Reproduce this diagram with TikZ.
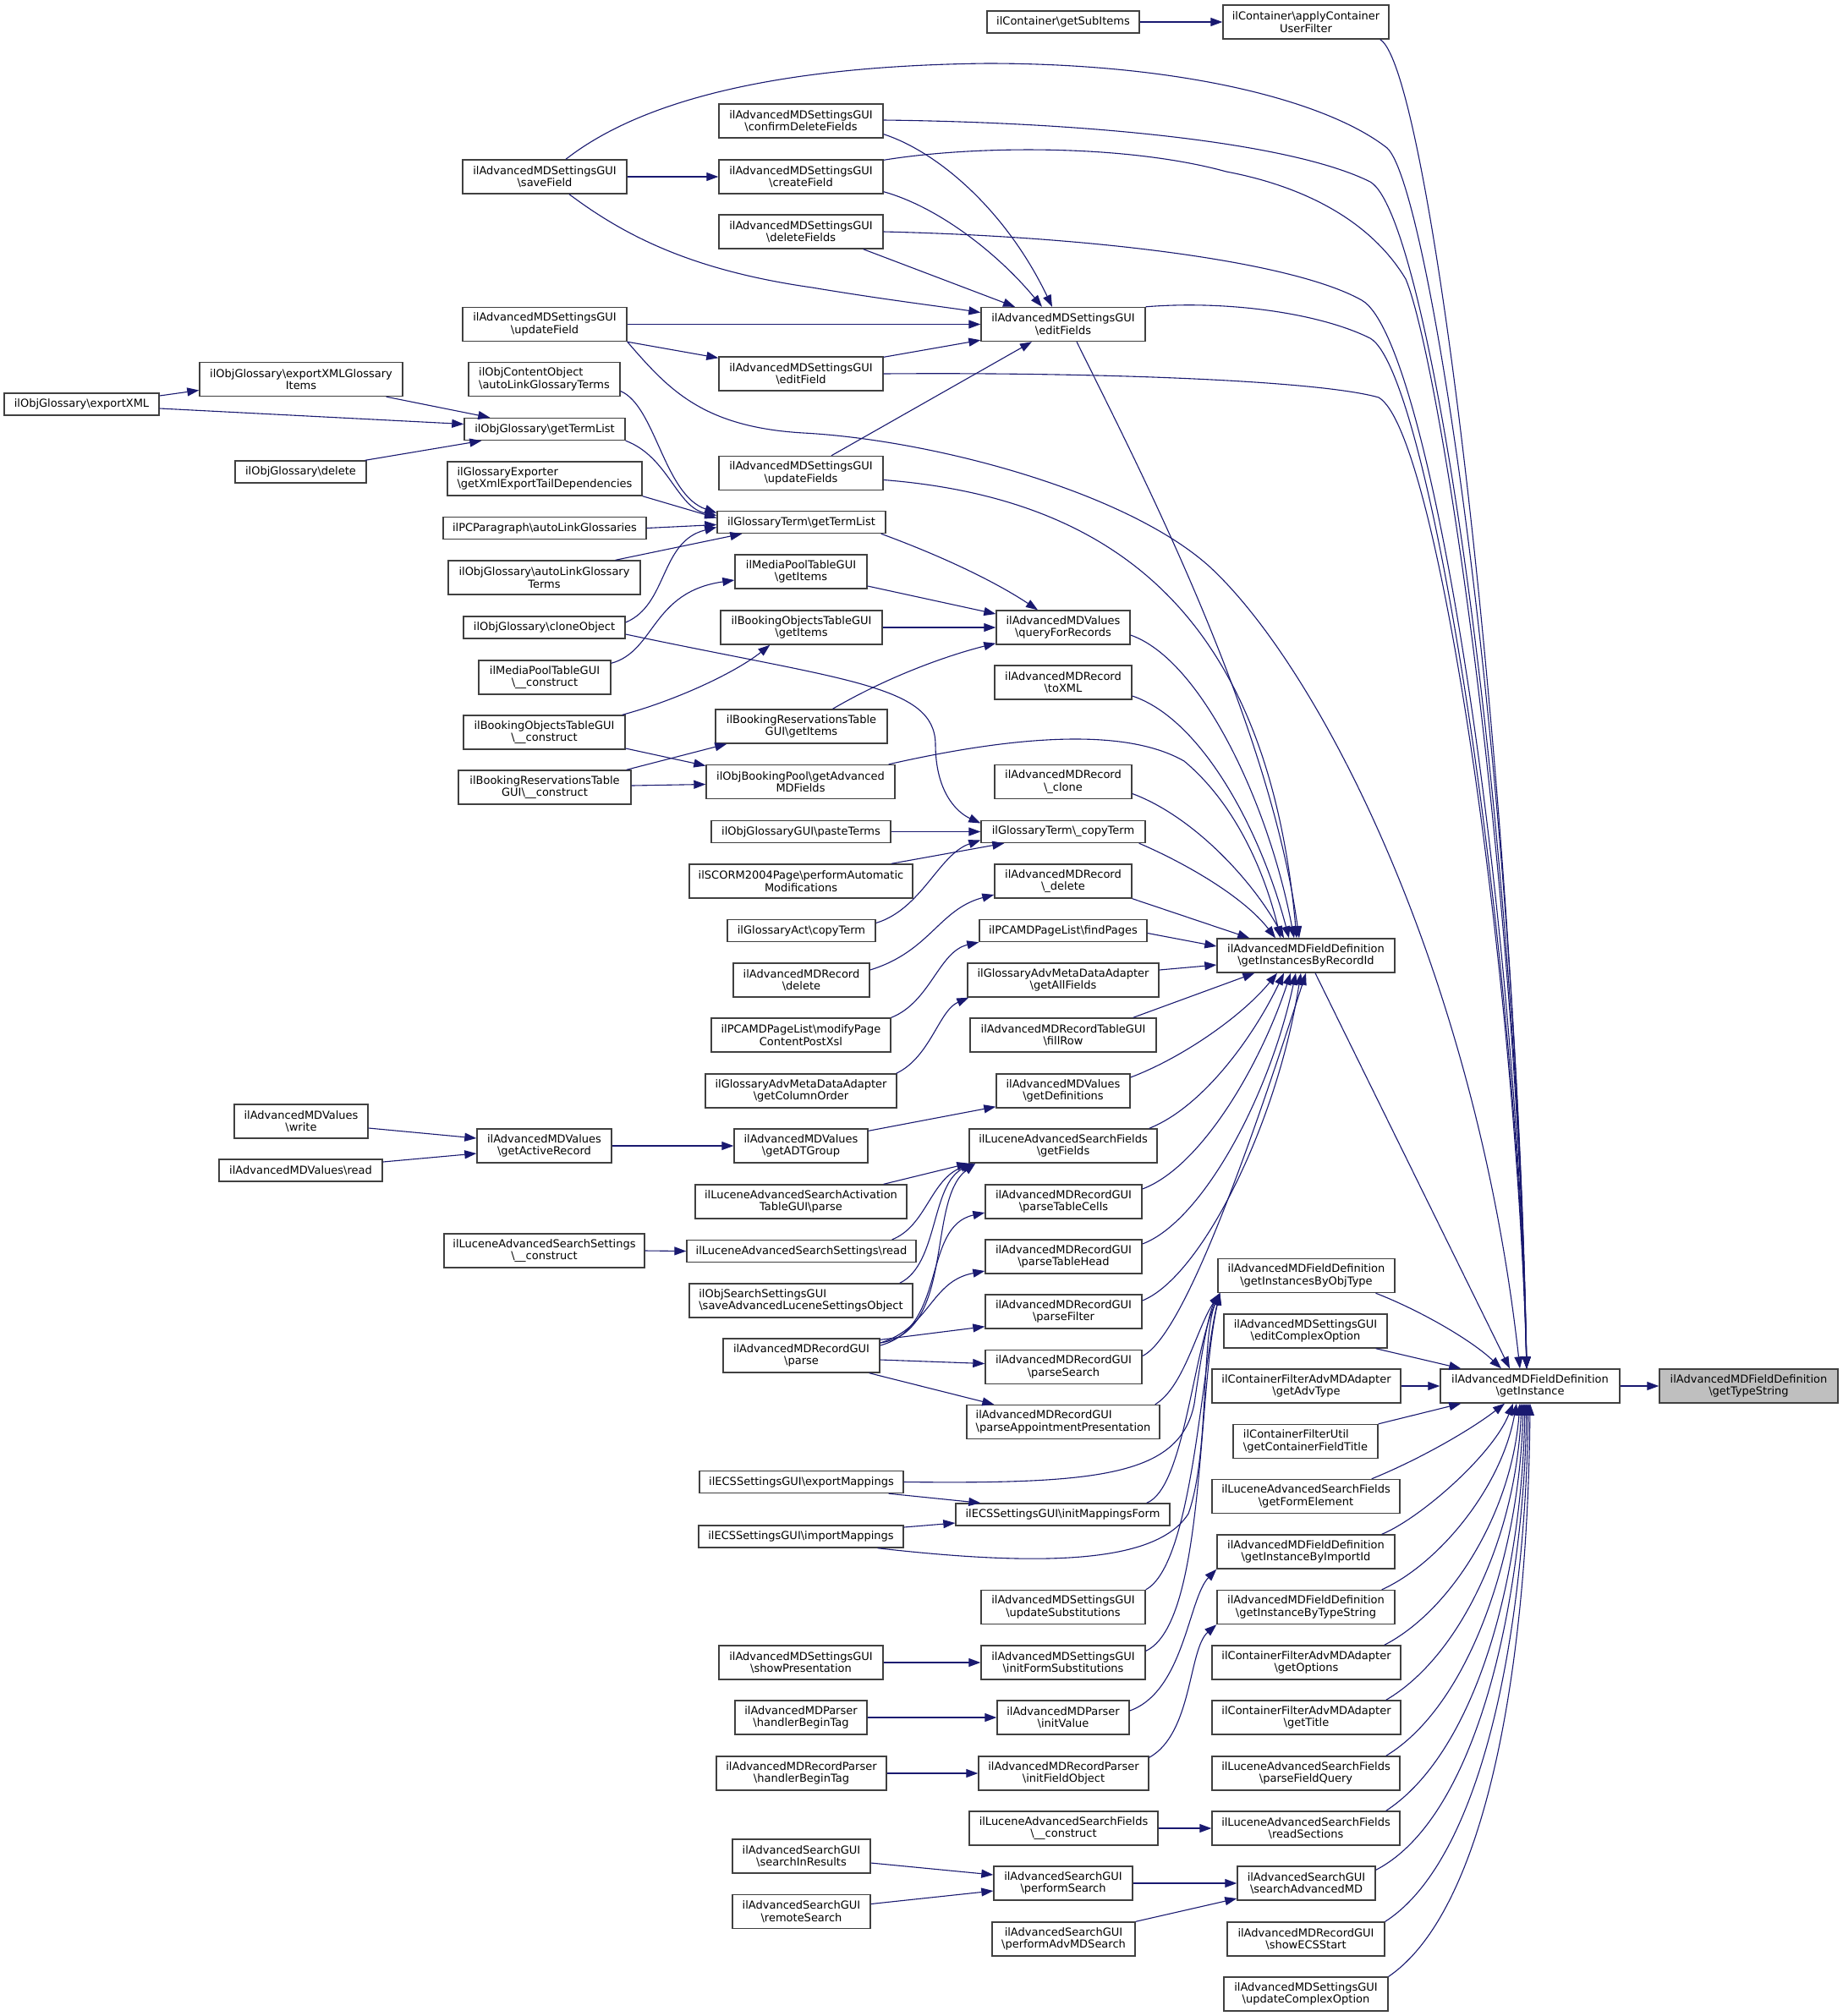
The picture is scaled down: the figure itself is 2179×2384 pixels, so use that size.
\documentclass[tikz,border=0pt]{standalone}
\usepackage{fontspec}
\setmainfont{DejaVu Sans}
\usetikzlibrary{arrows.meta,calc}
\definecolor{callblue}{RGB}{25,25,112}
\definecolor{boxgray}{RGB}{64,64,64}
\def\bs{\textbackslash}
\def\fnfont{\fontsize{6.5pt}{7.3pt}\selectfont}
\tikzset{
	fn/.style={draw=boxgray, line width=0.7pt, fill=white, inner sep=0pt, align=center, font=\fnfont},
	sz/.style 2 args={minimum width=#1*0.5pt, minimum height=#2*0.5pt},
	call/.style={draw=callblue, line width=0.55pt, -{Triangle[length=7pt,width=5pt]}},
}

\begin{document}
\begin{tikzpicture}[x=0.5pt,y=-0.5pt]
		%%%%% START %%%%%
		\fill[white] (0,0) rectangle (2179,2384);
		\useasboundingbox (0,0) rectangle (2179,2384);
		
		% right part
		\node[fn,sz={211}{40},fill=black!25] (typestr) at (2067.5,1639) {ilAdvancedMDFieldDefinition\\\bs getTypeString};
		\node[fn,sz={212}{40}] (getinst) at (1809,1639) {ilAdvancedMDFieldDefinition\\\bs getInstance};
		\node[fn,sz={196}{40}] (applyfilter) at (1544,26) {ilContainer\bs applyContainer\\UserFilter};
		\node[fn,sz={180}{26}] (subitems) at (1257,26) {ilContainer\bs getSubItems};
		
		% settings gui
		\node[fn,sz={194}{40}] (savefield) at (644,209) {ilAdvancedMDSettingsGUI\\\bs saveField};
		\node[fn,sz={194}{40}] (confirmdel) at (947,143) {ilAdvancedMDSettingsGUI\\\bs confirmDeleteFields};
		\node[fn,sz={194}{40}] (createfield) at (947,209) {ilAdvancedMDSettingsGUI\\\bs createField};
		\node[fn,sz={194}{40}] (deletefields) at (947,274) {ilAdvancedMDSettingsGUI\\\bs deleteFields};
		\node[fn,sz={194}{40}] (editfields) at (1257,383.5) {ilAdvancedMDSettingsGUI\\\bs editFields};
		\node[fn,sz={194}{40}] (updatefield) at (644,383.5) {ilAdvancedMDSettingsGUI\\\bs updateField};
		\node[fn,sz={194}{40}] (editfield) at (947,442) {ilAdvancedMDSettingsGUI\\\bs editField};
		\node[fn,sz={194}{40}] (updatefields) at (947,559.5) {ilAdvancedMDSettingsGUI\\\bs updateFields};
		
		% glossary
		\node[fn,sz={179}{40},align=left] (cobjautolink) at (643.5,448.5) {ilObjContentObject\\\bs autoLinkGlossaryTerms};
		\node[fn,sz={190}{26}] (glotermlist) at (644,507.5) {ilObjGlossary\bs getTermList};
		\node[fn,sz={240}{40}] (exportitems) at (356,448.5) {ilObjGlossary\bs exportXMLGlossary\\Items};
		\node[fn,sz={183}{26}] (exportxml) at (96.5,478) {ilObjGlossary\bs exportXML};
		\node[fn,sz={155}{26}] (glodelete) at (355.5,558) {ilObjGlossary\bs delete};
		\node[fn,sz={230}{40},align=left] (exporter) at (644,566) {ilGlossaryExporter\\\bs getXmlExportTailDependencies};
		\node[fn,sz={240}{26}] (pcpara) at (644,624.5) {ilPCParagraph\bs autoLinkGlossaries};
		\node[fn,sz={227}{40}] (gloautolink) at (643.5,683) {ilObjGlossary\bs autoLinkGlossary\\Terms};
		\node[fn,sz={191}{26}] (cloneobj) at (643.5,742) {ilObjGlossary\bs cloneObject};
		\node[fn,sz={156}{40}] (mpconstruct) at (644,801) {ilMediaPoolTableGUI\\\bs\_\_construct};
		\node[fn,sz={191}{40}] (boconstruct) at (643.5,866) {ilBookingObjectsTableGUI\\\bs\_\_construct};
		\node[fn,sz={204}{40}] (brconstruct) at (644,931) {ilBookingReservationsTable\\GUI\bs\_\_construct};
		\node[fn,sz={199}{26}] (termlist) at (947.5,617.5) {ilGlossaryTerm\bs getTermList};
		\node[fn,sz={156}{40}] (mpitems) at (947,676) {ilMediaPoolTableGUI\\\bs getItems};
		\node[fn,sz={191}{40}] (boitems) at (947.5,742) {ilBookingObjectsTableGUI\\\bs getItems};
		\node[fn,sz={158}{40}] (query) at (1257,742) {ilAdvancedMDValues\\\bs queryForRecords};
		\node[fn,sz={162}{40}] (toxml) at (1257,807) {ilAdvancedMDRecord\\\bs toXML};
		\node[fn,sz={203}{40}] (britems) at (947.5,859) {ilBookingReservationsTable\\GUI\bs getItems};
		\node[fn,sz={223}{40}] (bookpool) at (946.5,924.5) {ilObjBookingPool\bs getAdvanced\\MDFields};
		\node[fn,sz={162}{40}] (rclone) at (1257,924.5) {ilAdvancedMDRecord\\\bs\_clone};
		\node[fn,sz={212}{26}] (paste) at (947,983.5) {ilObjGlossaryGUI\bs pasteTerms};
		\node[fn,sz={194}{26}] (copyterm) at (1257,983.5) {ilGlossaryTerm\bs\_copyTerm};
		\node[fn,sz={264}{40}] (scorm) at (947,1042) {ilSCORM2004Page\bs performAutomatic\\Modifications};
		\node[fn,sz={162}{40}] (rdelete) at (1257,1042) {ilAdvancedMDRecord\\\bs\_delete};
		\node[fn,sz={175}{26}] (actcopy) at (947.5,1100.5) {ilGlossaryAct\bs copyTerm};
		\node[fn,sz={198}{26}] (findpages) at (1257,1100.5) {ilPCAMDPageList\bs findPages};
		\node[fn,sz={161}{40}] (recdelete) at (947.5,1159) {ilAdvancedMDRecord\\\bs delete};
		\node[fn,sz={226}{40}] (allfields) at (1257,1159) {ilGlossaryAdvMetaDataAdapter\\\bs getAllFields};
		\node[fn,sz={210}{40}] (byrecord) at (1544,1130) {ilAdvancedMDFieldDefinition\\\bs getInstancesByRecordId};
		
		% records and search
		\node[fn,sz={212}{40}] (modifypage) at (947,1224) {ilPCAMDPageList\bs modifyPage\\ContentPostXsl};
		\node[fn,sz={220}{40}] (fillrow) at (1257,1224) {ilAdvancedMDRecordTableGUI\\\bs fillRow};
		\node[fn,sz={226}{40}] (colorder) at (947,1290) {ilGlossaryAdvMetaDataAdapter\\\bs getColumnOrder};
		\node[fn,sz={158}{40}] (getdefs) at (1257,1290) {ilAdvancedMDValues\\\bs getDefinitions};
		\node[fn,sz={158}{40}] (mdwrite) at (356,1326) {ilAdvancedMDValues\\\bs write};
		\node[fn,sz={193}{26}] (mdread) at (355.5,1384) {ilAdvancedMDValues\bs read};
		\node[fn,sz={159}{40}] (activerec) at (643.5,1355) {ilAdvancedMDValues\\\bs getActiveRecord};
		\node[fn,sz={158}{40}] (adtgroup) at (947,1355) {ilAdvancedMDValues\\\bs getADTGroup};
		\node[fn,sz={222}{40}] (getfields) at (1257,1355) {ilLuceneAdvancedSearchFields\\\bs getFields};
		\node[fn,sz={250}{40}] (activparse) at (947,1421) {ilLuceneAdvancedSearchActivation\\TableGUI\bs parse};
		\node[fn,sz={185}{40}] (tablecells) at (1257.5,1421) {ilAdvancedMDRecordGUI\\\bs parseTableCells};
		\node[fn,sz={237}{40}] (lsconstruct) at (643.5,1479) {ilLuceneAdvancedSearchSettings\\\bs\_\_construct};
		\node[fn,sz={271}{26}] (lsread) at (947.5,1479.5) {ilLuceneAdvancedSearchSettings\bs read};
		\node[fn,sz={185}{40}] (tablehead) at (1257.5,1486) {ilAdvancedMDRecordGUI\\\bs parseTableHead};
		\node[fn,sz={264}{40},align=left] (savelucene) at (947,1538) {ilObjSearchSettingsGUI\\\bs saveAdvancedLuceneSettingsObject};
		\node[fn,sz={209}{40}] (byobjtype) at (1544.5,1508.5) {ilAdvancedMDFieldDefinition\\\bs getInstancesByObjType};
		\node[fn,sz={185}{40}] (parsefilter) at (1257.5,1551) {ilAdvancedMDRecordGUI\\\bs parseFilter};
		\node[fn,sz={193}{40}] (editcomplex) at (1543.5,1574) {ilAdvancedMDSettingsGUI\\\bs editComplexOption};
		\node[fn,sz={185}{40}] (rgparse) at (947.5,1603) {ilAdvancedMDRecordGUI\\\bs parse};
		\node[fn,sz={185}{40}] (parsesearch) at (1257.5,1616.5) {ilAdvancedMDRecordGUI\\\bs parseSearch};
		\node[fn,sz={223}{40}] (advtype) at (1544.5,1639) {ilContainerFilterAdvMDAdapter\\\bs getAdvType};
		\node[fn,sz={228}{40},align=left] (appointment) at (1257,1681.5) {ilAdvancedMDRecordGUI\\\bs parseAppointmentPresentation};
		\node[fn,sz={171}{40},align=left] (fieldtitle) at (1543.5,1704.5) {ilContainerFilterUtil\\\bs getContainerFieldTitle};
		\node[fn,sz={241}{26}] (exportmap) at (947.5,1752.5) {ilECSSettingsGUI\bs exportMappings};
		\node[fn,sz={222}{40}] (formelement) at (1544,1769.5) {ilLuceneAdvancedSearchFields\\\bs getFormElement};
		\node[fn,sz={253}{26}] (mappingsform) at (1256.5,1791) {ilECSSettingsGUI\bs initMappingsForm};
		\node[fn,sz={242}{26}] (importmap) at (947,1817) {ilECSSettingsGUI\bs importMappings};
		\node[fn,sz={210}{40}] (byimportid) at (1544,1835) {ilAdvancedMDFieldDefinition\\\bs getInstanceByImportId};
		\node[fn,sz={194}{40}] (updatesubst) at (1257,1900.5) {ilAdvancedMDSettingsGUI\\\bs updateSubstitutions};
		\node[fn,sz={210}{40}] (bytypestring) at (1544,1900.5) {ilAdvancedMDFieldDefinition\\\bs getInstanceByTypeString};
		\node[fn,sz={194}{40}] (showpres) at (947,1966) {ilAdvancedMDSettingsGUI\\\bs showPresentation};
		\node[fn,sz={194}{40}] (initformsubst) at (1257,1966) {ilAdvancedMDSettingsGUI\\\bs initFormSubstitutions};
		\node[fn,sz={223}{40}] (getoptions) at (1544.5,1966) {ilContainerFilterAdvMDAdapter\\\bs getOptions};
		\node[fn,sz={156}{40}] (mdphandler) at (947,2031) {ilAdvancedMDParser\\\bs handlerBeginTag};
		\node[fn,sz={156}{40}] (initvalue) at (1257,2031) {ilAdvancedMDParser\\\bs initValue};
		\node[fn,sz={223}{40}] (gettitle) at (1544.5,2031) {ilContainerFilterAdvMDAdapter\\\bs getTitle};
		\node[fn,sz={201}{40}] (rphandler) at (947.5,2097) {ilAdvancedMDRecordParser\\\bs handlerBeginTag};
		\node[fn,sz={201}{40}] (initfieldobj) at (1257.5,2097) {ilAdvancedMDRecordParser\\\bs initFieldObject};
		\node[fn,sz={222}{40}] (fieldquery) at (1544,2097) {ilLuceneAdvancedSearchFields\\\bs parseFieldQuery};
		\node[fn,sz={223}{40}] (lfconstruct) at (1257.5,2162) {ilLuceneAdvancedSearchFields\\\bs\_\_construct};
		\node[fn,sz={222}{40}] (readsections) at (1544,2162) {ilLuceneAdvancedSearchFields\\\bs readSections};
		\node[fn,sz={163}{40}] (searchinres) at (947.5,2195) {ilAdvancedSearchGUI\\\bs searchInResults};
		\node[fn,sz={164}{40}] (performsearch) at (1257,2227) {ilAdvancedSearchGUI\\\bs performSearch};
		\node[fn,sz={163}{40}] (searchadvmd) at (1544.5,2227) {ilAdvancedSearchGUI\\\bs searchAdvancedMD};
		\node[fn,sz={163}{40}] (remotesearch) at (947.5,2260.5) {ilAdvancedSearchGUI\\\bs remoteSearch};
		\node[fn,sz={169}{40}] (performadvmd) at (1257.5,2293) {ilAdvancedSearchGUI\\\bs performAdvMDSearch};
		\node[fn,sz={186}{40}] (showecs) at (1544,2293) {ilAdvancedMDRecordGUI\\\bs showECSStart};
		\node[fn,sz={194}{40}] (updatecomplex) at (1544,2358) {ilAdvancedMDSettingsGUI\\\bs updateComplexOption};
		
		% calls into getInstance
		\draw[call] (getinst.east) -- (typestr.west);
		\draw[call] (subitems.east) -- (applyfilter.west);
		\draw[call] ($(applyfilter.south east)+(-11,0)$) .. controls (1690,80) and (1790,900) .. ($(getinst.north)+(-4,0)$);
		\draw[call] ($(savefield.north)+(25,0)$) .. controls (750,125) and (900,78) .. (1167,75) .. controls (1400,75) and (1570,120) .. (1640,175) .. controls (1690,220) and (1792,900) .. ($(getinst.north)+(-4,0)$);
		\draw[call] ($(confirmdel.east)+(0,-1)$) .. controls (1300,145) and (1530,170) .. (1620,215) .. controls (1690,255) and (1792,950) .. ($(getinst.north)+(-4,0)$);
		\draw[call] ($(createfield.north east)+(0,1)$) .. controls (1150,172) and (1330,170) .. (1450,203) .. controls (1540,220) and (1620,260) .. (1662,330) .. controls (1700,420) and (1792,1000) .. ($(getinst.north)+(-4,0)$);
		\draw[call] (deletefields.east) .. controls (1300,280) and (1530,310) .. (1610,355) .. controls (1690,400) and (1792,1050) .. ($(getinst.north)+(-4,0)$);
		\draw[call] (editfields.north east) .. controls (1450,355) and (1560,370) .. (1620,400) .. controls (1690,440) and (1792,1100) .. ($(getinst.north)+(-4,0)$);
		\draw[call] (editfield.east) .. controls (1300,440) and (1560,450) .. (1630,470) .. controls (1700,510) and (1792,1150) .. ($(getinst.north)+(-4,0)$);
		\draw[call] (updatefield.south east) .. controls (790,460) and (830,505) .. (950,512) .. controls (1100,520) and (1330,580) .. (1430,670) .. controls (1560,790) and (1745,1150) .. ($(getinst.north)+(-12,0)$);
		\draw[call] ($(byrecord.south)+(11,0)$) -- ($(getinst.north)+(-24,0)$);
		\draw[call] ($(byobjtype.south)+(82,0)$) .. controls (1680,1550) and (1740,1585) .. ($(getinst.north)+(-34,0)$);
		\draw[call] ($(editcomplex.south east)+(-14,0)$) -- ($(getinst.north west)+(25,0)$);
		\draw[call] (advtype.east) -- (getinst.west);
		\draw[call] (fieldtitle.north east) -- ($(getinst.south west)+(25,0)$);
		\draw[call] ($(formelement.north east)+(-34,0)$) .. controls (1680,1725) and (1740,1690) .. ($(getinst.south)+(-30,0)$);
		\draw[call] ($(byimportid.north east)+(-16,0)$) .. controls (1680,1795) and (1765,1720) .. ($(getinst.south)+(-20,0)$);
		\draw[call] ($(bytypestring.north east)+(-16,0)$) .. controls (1700,1850) and (1775,1760) .. ($(getinst.south)+(-16,0)$);
		\draw[call] ($(getoptions.north east)+(-20,0)$) .. controls (1715,1905) and (1787,1790) .. ($(getinst.south)+(-12,0)$);
		\draw[call] ($(gettitle.north east)+(-18,0)$) .. controls (1725,1960) and (1792,1820) .. ($(getinst.south)+(-10,0)$);
		\draw[call] ($(fieldquery.north east)+(-17,0)$) .. controls (1732,2020) and (1796,1850) .. ($(getinst.south)+(-8,0)$);
		\draw[call] ($(readsections.north east)+(-17,0)$) .. controls (1740,2075) and (1799,1880) .. ($(getinst.south)+(-6,0)$);
		\draw[call] ($(searchadvmd.north east)+(0,5)$) .. controls (1745,2150) and (1801,1900) .. ($(getinst.south)+(-4,0)$);
		\draw[call] (showecs.north east) .. controls (1750,2200) and (1803,1940) .. ($(getinst.south)+(-2,0)$);
		\draw[call] (updatecomplex.north east) .. controls (1755,2260) and (1806,1980) .. (getinst.south);
		
		% settings gui calls
		\draw[call] (savefield.east) -- (createfield.west);
		\draw[call] ($(savefield.south)+(29,0)$) .. controls (740,280) and (820,320) .. (960,340) .. controls (1050,355) and (1110,362) .. ($(editfields.west)+(0,-14)$);
		\draw[call] ($(confirmdel.south east)+(0,-5)$) .. controls (1110,180) and (1190,250) .. ($(editfields.north)+(-13,0)$);
		\draw[call] ($(createfield.south east)+(0,-3)$) .. controls (1110,245) and (1180,300) .. ($(editfields.north)+(-25,0)$);
		\draw[call] ($(deletefields.south east)+(-24,0)$) -- ($(editfields.north)+(-57,0)$);
		\draw[call] (updatefield.east) -- (editfields.west);
		\draw[call] (updatefield.south east) -- ($(editfield.north west)+(0,2)$);
		\draw[call] ($(editfield.north east)+(0,1)$) -- ($(editfields.south west)+(0,-2)$);
		\draw[call] ($(updatefields.north)+(36,0)$) -- ($(editfields.south)+(-37,0)$);
		\draw[call] ($(editfields.south)+(16,0)$) .. controls (1350,560) and (1500,850) .. ($(byrecord.north)+(-8,0)$);
		\draw[call] ($(updatefields.east)+(0,8)$) .. controls (1330,590) and (1500,740) .. ($(byrecord.north)+(-11,0)$);
		
		% glossary calls
		\draw[call] ($(exportxml.east)+(0,-10)$) -- ($(exportitems.west)+(0,13)$);
		\draw[call] ($(exportxml.east)+(0,5)$) -- ($(glotermlist.west)+(0,-6)$);
		\draw[call] ($(exportitems.south east)+(-20,0)$) -- ($(glotermlist.north west)+(31,0)$);
		\draw[call] ($(glodelete.north east)+(-2,0)$) -- ($(glotermlist.south west)+(21,0)$);
		\draw[call] (glotermlist.south east) .. controls (790,540) and (800,600) .. ($(termlist.west)+(0,-8)$);
		\draw[call] ($(cobjautolink.east)+(0,14)$) .. controls (775,480) and (785,585) .. ($(termlist.west)+(0,-11)$);
		\draw[call] (exporter.south east) -- ($(termlist.west)+(0,-5)$);
		\draw[call] (pcpara.east) -- ($(termlist.west)+(0,3)$);
		\draw[call] ($(gloautolink.north east)+(-30,0)$) -- ($(termlist.south west)+(30,0)$);
		\draw[call] ($(cloneobj.east)+(0,-6)$) .. controls (790,715) and (780,640) .. ($(termlist.west)+(0,6)$);
		\draw[call] ($(cloneobj.east)+(0,8)$) .. controls (1000,805) and (1105,810) .. (1106,880) .. controls (1106,935) and (1130,960) .. ($(copyterm.west)+(0,-10)$);
		\draw[call] ($(mpconstruct.north east)+(0,4)$) .. controls (775,770) and (770,700) .. ($(mpitems.west)+(0,10)$);
		\draw[call] ($(termlist.south east)+(-6,0)$) .. controls (1120,660) and (1180,690) .. ($(query.north)+(-30,0)$);
		\draw[call] ($(mpitems.east)+(0,17)$) -- ($(query.west)+(0,-16)$);
		\draw[call] (boitems.east) -- (query.west);
		\draw[call] ($(britems.north)+(37,0)$) .. controls (1050,800) and (1120,775) .. ($(query.south west)+(0,-2)$);
		\draw[call] ($(boconstruct.north east)+(-4,0)$) .. controls (800,828) and (870,795) .. ($(boitems.south west)+(59,0)$);
		\draw[call] ($(boconstruct.east)+(0,19)$) -- ($(bookpool.west)+(0,-19)$);
		\draw[call] ($(brconstruct.north east)+(-6,0)$) -- ($(britems.south west)+(14,0)$);
		\draw[call] ($(brconstruct.east)+(0,-2)$) -- ($(bookpool.west)+(0,3)$);
		\draw[call] ($(bookpool.north east)+(-8,0)$) .. controls (1200,870) and (1330,860) .. (1400,900) .. controls (1460,950) and (1495,1030) .. ($(byrecord.north)+(-30,0)$);
		\draw[call] (paste.east) -- (copyterm.west);
		\draw[call] ($(scorm.north east)+(-26,0)$) -- ($(copyterm.south west)+(28,0)$);
		\draw[call] ($(actcopy.east)+(0,-9)$) .. controls (1090,1075) and (1110,1010) .. ($(copyterm.west)+(0,10)$);
		\draw[call] ($(recdelete.east)+(0,-12)$) .. controls (1100,1125) and (1110,1075) .. ($(rdelete.west)+(0,16)$);
		\draw[call] (modifypage.north east) .. controls (1100,1185) and (1110,1125) .. (findpages.south west);
		\draw[call] ($(colorder.north east)+(-1,0)$) .. controls (1100,1250) and (1110,1195) .. ($(allfields.south west)+(2,0)$);
		
		% calls into getInstancesByRecordId
		\draw[call] ($(copyterm.south east)+(-8,0)$) .. controls (1400,1020) and (1470,1060) .. ($(byrecord.north)+(-36,0)$);
		\draw[call] ($(query.east)+(0,9)$) .. controls (1420,780) and (1500,950) .. ($(byrecord.north)+(-14,0)$);
		\draw[call] ($(toxml.east)+(0,16)$) .. controls (1420,850) and (1490,980) .. ($(byrecord.north)+(-20,0)$);
		\draw[call] ($(rclone.east)+(0,14)$) .. controls (1410,965) and (1480,1040) .. ($(byrecord.north)+(-26,0)$);
		\draw[call] (rdelete.south east) -- ($(byrecord.north west)+(39,0)$);
		\draw[call] ($(findpages.east)+(0,3)$) -- ($(byrecord.west)+(0,-11)$);
		\draw[call] ($(allfields.east)+(0,-12)$) -- ($(byrecord.west)+(0,11)$);
		\draw[call] ($(fillrow.north east)+(-28,0)$) -- ($(byrecord.south west)+(45,0)$);
		\draw[call] ($(getdefs.east)+(0,-16)$) .. controls (1400,1250) and (1470,1200) .. ($(byrecord.south)+(-34,0)$);
		\draw[call] ($(getfields.north east)+(-10,0)$) .. controls (1420,1310) and (1480,1230) .. ($(byrecord.south)+(-26,0)$);
		\draw[call] ($(tablecells.east)+(0,-15)$) .. controls (1420,1380) and (1490,1260) .. ($(byrecord.south)+(-18,0)$);
		\draw[call] ($(tablehead.east)+(0,-15)$) .. controls (1420,1445) and (1500,1300) .. ($(byrecord.south)+(-12,0)$);
		\draw[call] ($(parsefilter.east)+(0,-13)$) .. controls (1420,1510) and (1510,1330) .. ($(byrecord.south)+(-6,0)$);
		\draw[call] ($(parsesearch.east)+(0,-13)$) .. controls (1400,1580) and (1480,1350) .. (byrecord.south);
		
		% values and lucene
		\draw[call] ($(mdwrite.east)+(0,8)$) -- ($(activerec.west)+(0,-9)$);
		\draw[call] ($(mdread.east)+(0,-10)$) -- ($(activerec.west)+(0,9)$);
		\draw[call] (activerec.east) -- (adtgroup.west);
		\draw[call] ($(adtgroup.north east)+(0,3)$) -- ($(getdefs.south west)+(0,-2)$);
		\draw[call] ($(activparse.north east)+(-28,0)$) -- (getfields.south west);
		\draw[call] ($(lsread.north east)+(-29,0)$) .. controls (1095,1450) and (1100,1395) .. ($(getfields.south west)+(4,0)$);
		\draw[call] ($(savelucene.north east)+(-16,0)$) .. controls (1110,1495) and (1100,1400) .. ($(getfields.south west)+(6,0)$);
		\draw[call] ($(rgparse.east)+(0,-15)$) .. controls (1130,1575) and (1095,1420) .. ($(getfields.south west)+(8,0)$);
		\draw[call] ($(rgparse.east)+(0,-12)$) .. controls (1120,1570) and (1090,1450) .. ($(tablecells.west)+(0,13)$);
		\draw[call] ($(rgparse.east)+(0,-15)$) .. controls (1100,1570) and (1100,1515) .. ($(tablehead.west)+(0,17)$);
		\draw[call] ($(rgparse.north east)+(0,2)$) -- ($(parsefilter.south west)+(0,-3)$);
		\draw[call] ($(rgparse.east)+(0,5)$) -- ($(parsesearch.west)+(0,-4)$);
		\draw[call] ($(rgparse.south east)+(-13,0)$) -- ($(appointment.north west)+(33,0)$);
		\draw[call] (lsconstruct.east) -- (lsread.west);
		
		% calls into getInstancesByObjType and others
		\draw[call] ($(appointment.north east)+(-6,0)$) .. controls (1400,1640) and (1415,1570) .. ($(byobjtype.south west)+(3,0)$);
		\draw[call] (exportmap.east) .. controls (1300,1755) and (1395,1745) .. (1412,1660) .. controls (1422,1590) and (1430,1550) .. ($(byobjtype.south west)+(3,0)$);
		\draw[call] ($(mappingsform.north east)+(-28,0)$) .. controls (1400,1760) and (1410,1600) .. ($(byobjtype.south west)+(3,0)$);
		\draw[call] ($(importmap.south east)+(-31,0)$) .. controls (1250,1855) and (1370,1845) .. (1405,1790) .. controls (1430,1720) and (1420,1580) .. ($(byobjtype.south west)+(3,0)$);
		\draw[call] (updatesubst.north east) .. controls (1410,1850) and (1420,1620) .. ($(byobjtype.south west)+(3,0)$);
		\draw[call] ($(initformsubst.north east)+(0,7)$) .. controls (1425,1920) and (1415,1650) .. ($(byobjtype.south west)+(3,0)$);
		\draw[call] ($(initvalue.east)+(0,-8)$) .. controls (1400,2000) and (1405,1890) .. (byimportid.south west);
		\draw[call] ($(initfieldobj.north east)+(0,2)$) .. controls (1410,2050) and (1405,1950) .. (bytypestring.south west);
		\draw[call] ($(exportmap.south east)+(-18,0)$) -- ($(mappingsform.north west)+(30,0)$);
		\draw[call] ($(importmap.east)+(0,-11)$) -- ($(mappingsform.west)+(0,10)$);
		\draw[call] (showpres.east) -- (initformsubst.west);
		\draw[call] (mdphandler.east) -- (initvalue.west);
		\draw[call] (rphandler.east) -- (initfieldobj.west);
		\draw[call] (lfconstruct.east) -- (readsections.west);
		\draw[call] ($(searchinres.east)+(0,8)$) -- ($(performsearch.west)+(0,-10)$);
		\draw[call] ($(remotesearch.east)+(0,-9)$) -- ($(performsearch.west)+(0,9)$);
		\draw[call] (performsearch.east) -- (searchadvmd.west);
		\draw[call] (performadvmd.north east) -- ($(searchadvmd.west)+(0,18)$);
		
		%%%%% END %%%%%
	\end{tikzpicture}
\end{document}
